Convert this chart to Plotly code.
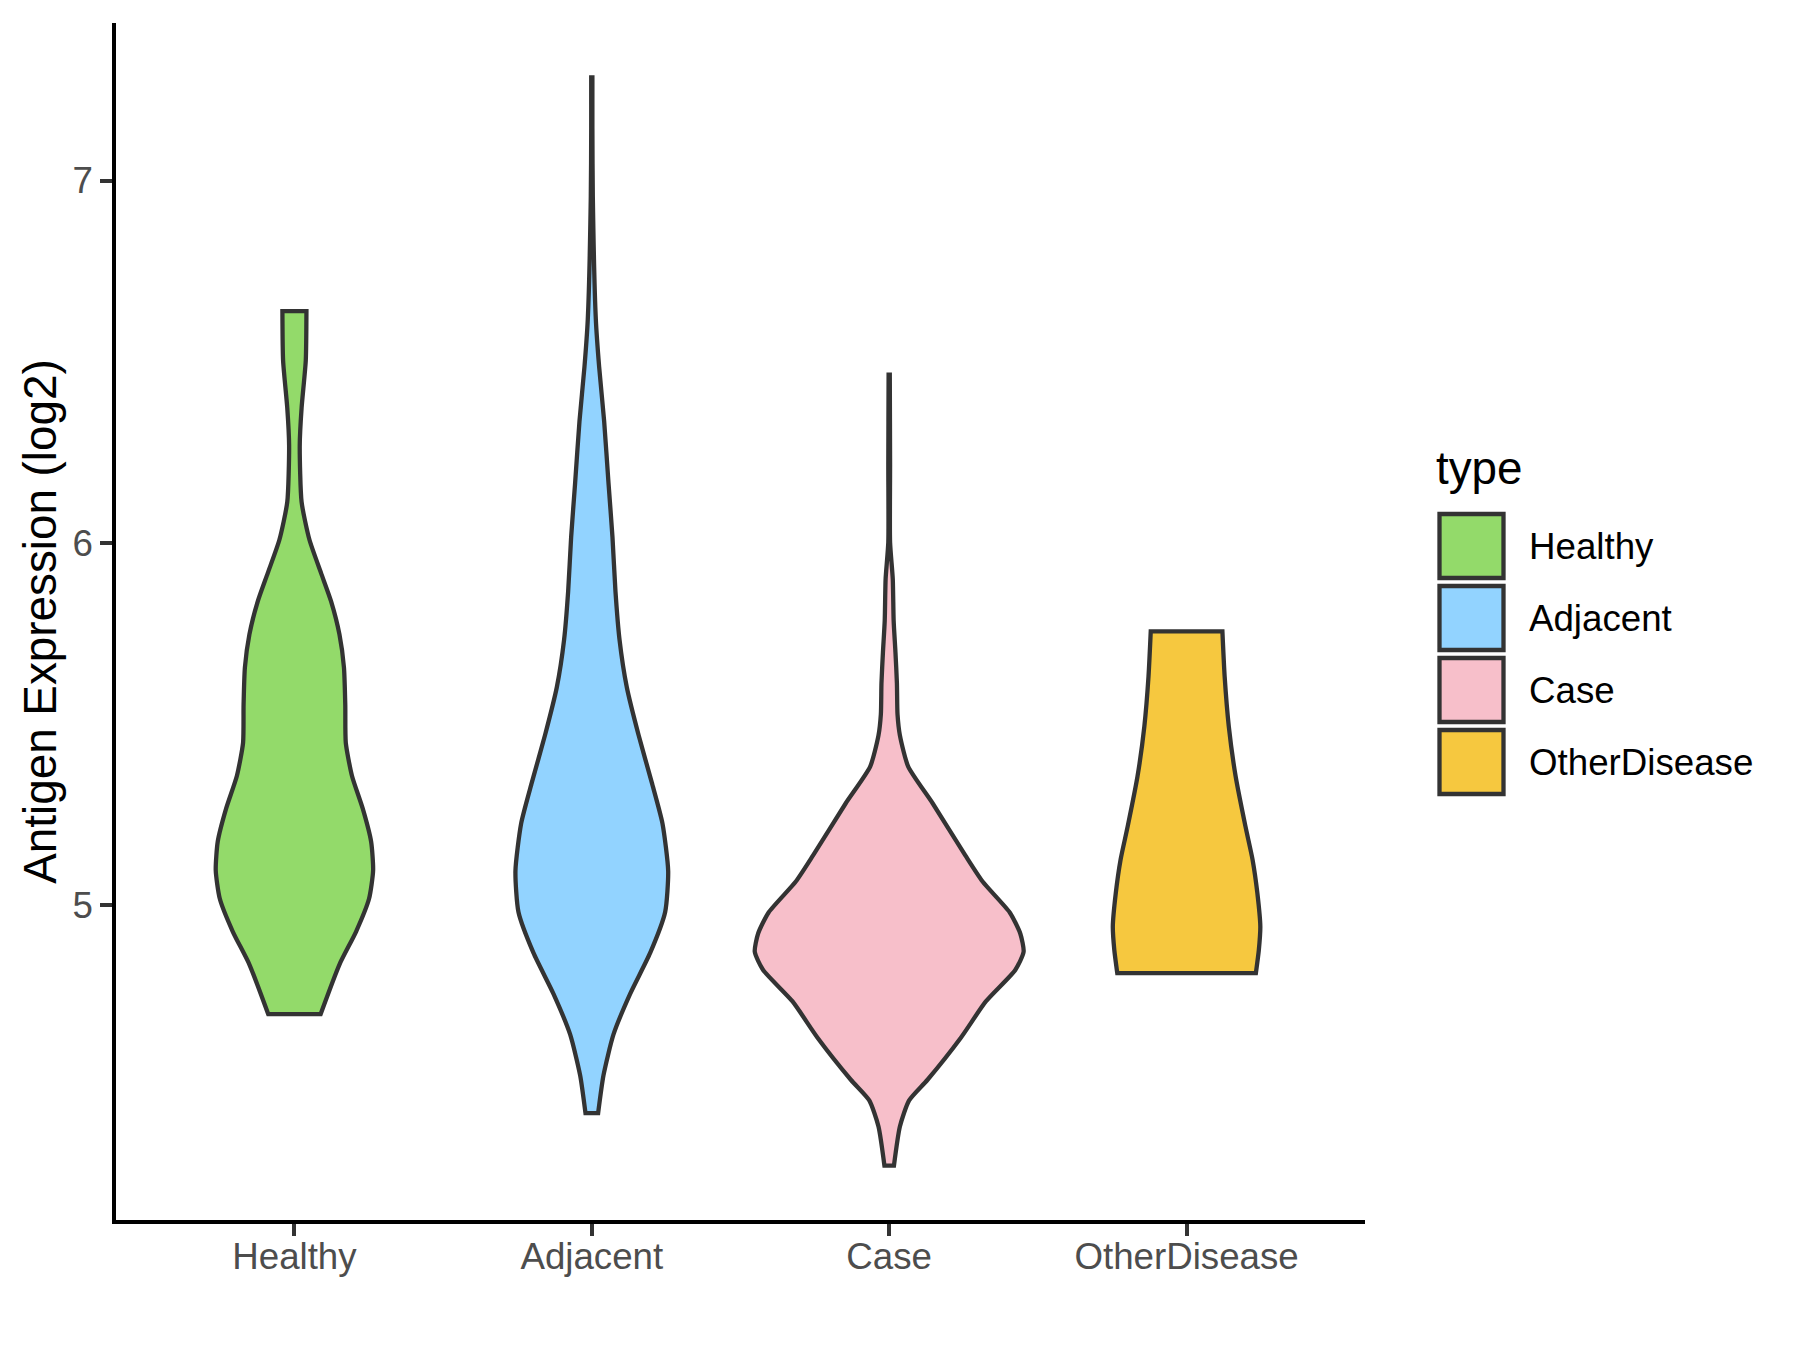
import plotly.graph_objects as go
import numpy as np

# ---- data ----
categories = ["Healthy", "Adjacent", "Case", "OtherDisease"]
colors = ["#93DA6A", "#92D3FF", "#F7BFCA", "#F6C83F"]

# violin outlines: expression values (top -> bottom) and half-widths (category units)
healthy_y = [6.640, 6.503, 6.373, 6.269, 6.113, 6.009, 5.917, 5.839, 5.748, 5.657,
             5.553, 5.449, 5.358, 5.267, 5.176, 5.097, 5.019, 4.928, 4.837, 4.700]
healthy_hw = [0.0404, 0.0381, 0.0241, 0.0179, 0.0241, 0.0505, 0.0897, 0.1233, 0.1514, 0.1665,
              0.1710, 0.1727, 0.1934, 0.2298, 0.2579, 0.2646, 0.2511, 0.2074, 0.1514, 0.0880]

adjacent_y = [7.285, 7.144, 6.956, 6.618, 6.486, 6.336, 6.166, 6.016, 5.866, 5.734, 5.602,
              5.471, 5.339, 5.226, 5.095, 4.982, 4.869, 4.756, 4.644, 4.531, 4.427]
adjacent_hw = [0.002, 0.002, 0.0034, 0.0135, 0.0247, 0.0415, 0.0561, 0.0695, 0.0796, 0.0931, 0.1177,
               0.157, 0.2018, 0.2377, 0.2568, 0.2467, 0.1962, 0.1289, 0.0729, 0.0392, 0.0213]

case_y = [6.465, 6.217, 6.002, 5.901, 5.786, 5.699, 5.613, 5.527, 5.469, 5.383, 5.282, 5.138,
          5.066, 4.980, 4.922, 4.872, 4.822, 4.735, 4.635, 4.519, 4.462, 4.390, 4.282]
case_hw = [0.002, 0.003, 0.003, 0.012, 0.015, 0.021, 0.026, 0.028, 0.036, 0.064, 0.146, 0.256,
           0.314, 0.406, 0.441, 0.452, 0.424, 0.325, 0.241, 0.129, 0.067, 0.036, 0.016]

other_y = [5.756, 5.632, 5.494, 5.356, 5.218, 5.126, 5.034, 4.942, 4.877, 4.813]
other_hw = [0.1205, 0.128, 0.142, 0.165, 0.198, 0.222, 0.238, 0.248, 0.243, 0.233]

y_ticks = [5, 6, 7]
y_title = "Antigen Expression (log2)"
legend_title = "type"

profiles = [(healthy_y, healthy_hw), (adjacent_y, adjacent_hw),
            (case_y, case_hw), (other_y, other_hw)]

# ---- layout constants (pixels, figure coordinates; page adds an 8px body margin) ----
W, H = 1800, 1350
L, R, T, B = 108, 443, 15, 138
PW, PH = W - L - R, H - T - B
FONT = "Liberation Sans, Arial, sans-serif"
AX_TXT = 36.7
TITLE_TXT = 45.8
LW = 4.3

fig = go.Figure()
for i, (cat, col, (ys, hws)) in enumerate(zip(categories, colors, profiles)):
    pos = i + 1
    ys = np.array(ys)
    hws = np.array(hws)
    rx, ry = pos + hws, ys                    # right side, top -> bottom
    lx, ly = (pos - hws)[::-1], ys[::-1]      # left side, bottom -> top
    # repeat the corner points so the spline keeps the flat ends sharp
    xs = np.concatenate([rx[:1], rx, rx[-1:], lx[:1], lx, lx[-1:], rx[:1]])
    yy = np.concatenate([ry[:1], ry, ry[-1:], ly[:1], ly, ly[-1:], ry[:1]])
    fig.add_trace(go.Scatter(
        x=xs, y=yy, mode="lines", fill="toself", fillcolor=col,
        line=dict(color="#333333", width=LW, shape="spline", smoothing=0.6),
        name=cat, showlegend=False, hoverinfo="skip"))

# ---- manual legend (ggplot style) ----
def px2x(px):
    return (px - L) / PW

def py2y(py):
    return (H - B - py) / PH

key_x0, key_x1 = 1431.5, 1495.5
key_top0, key_pitch, key_h = 506, 72, 64
shapes = []
annotations = []
for i, (cat, col) in enumerate(zip(categories, colors)):
    top = key_top0 + i * key_pitch
    shapes.append(dict(type="rect", xref="paper", yref="paper",
                       x0=px2x(key_x0), x1=px2x(key_x1),
                       y0=py2y(top + key_h), y1=py2y(top),
                       fillcolor=col, line=dict(color="#333333", width=LW)))
    annotations.append(dict(xref="paper", yref="paper", x=px2x(1519), y=py2y(top + key_h / 2),
                            text=cat, showarrow=False, xanchor="left", yanchor="middle",
                            font=dict(family=FONT, size=AX_TXT, color="black")))
annotations.append(dict(xref="paper", yref="paper", x=px2x(1426), y=py2y(460),
                        text=legend_title, showarrow=False, xanchor="left", yanchor="middle",
                        font=dict(family=FONT, size=TITLE_TXT, color="black")))

fig.update_layout(
    width=W, height=H,
    margin=dict(l=L, r=R, t=T, b=B, autoexpand=False),
    paper_bgcolor="white", plot_bgcolor="white",
    font=dict(family=FONT),
    shapes=shapes, annotations=annotations,
    showlegend=False,
    xaxis=dict(range=[0.4, 4.6], tickvals=[1, 2, 3, 4], ticktext=categories,
               showgrid=False, zeroline=False, showline=True, linecolor="black",
               linewidth=LW, ticks="outside", ticklen=11.5, tickwidth=LW,
               tickcolor="#333333", ticklabelstandoff=-11,
               tickfont=dict(family=FONT, size=AX_TXT, color="#4D4D4D")),
    yaxis=dict(range=[4.132, 7.435], tickvals=y_ticks, ticktext=[str(v) for v in y_ticks],
               showgrid=False, zeroline=False, showline=True, linecolor="black",
               linewidth=LW, ticks="outside", ticklen=11.5, tickwidth=LW,
               tickcolor="#333333", ticklabelstandoff=0,
               tickfont=dict(family=FONT, size=AX_TXT, color="#4D4D4D"),
               title=dict(text=y_title, standoff=3,
                          font=dict(family=FONT, size=TITLE_TXT, color="black"))),
)

fig.write_html("out.html")
